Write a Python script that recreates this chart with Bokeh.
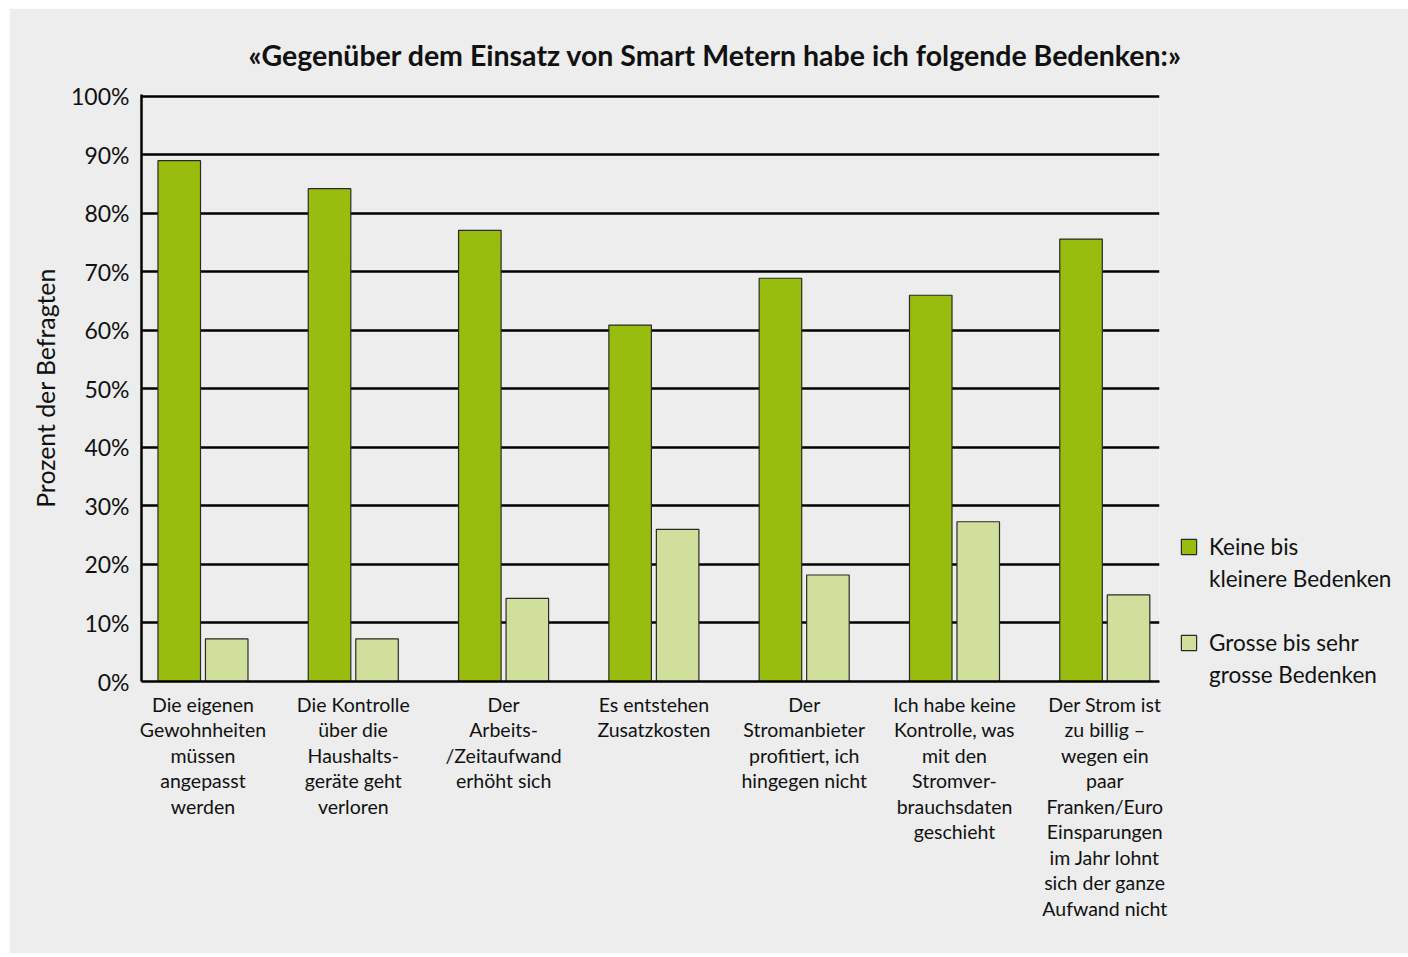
from bokeh.plotting import figure
from bokeh.models import Range1d, FixedTicker, Legend, LegendItem
from bokeh.embed import file_html
from bokeh.resources import INLINE

categories = [
    "Die eigenen\nGewohnheiten\nmüssen\nangepasst\nwerden",
    "Die Kontrolle\nüber die\nHaushalts-\ngeräte geht\nverloren",
    "Der\nArbeits-\n/Zeitaufwand\nerhöht sich",
    "Es entstehen\nZusatzkosten",
    "Der\nStromanbieter\nprofitiert, ich\nhingegen nicht",
    "Ich habe keine\nKontrolle, was\nmit den\nStromver-\nbrauchsdaten\ngeschieht",
    "Der Strom ist\nzu billig –\nwegen ein\npaar\nFranken/Euro\nEinsparungen\nim Jahr lohnt\nsich der ganze\nAufwand nicht",
]
keine = [89, 84.2, 77.1, 60.9, 68.9, 66.0, 75.6]
grosse = [7.3, 7.3, 14.2, 26.0, 18.2, 27.3, 14.8]
series_names = ["Keine bis\nkleinere Bedenken", "Grosse bis sehr\ngrosse Bedenken"]
y_ticks = [0, 10, 20, 30, 40, 50, 60, 70, 80, 90, 100]
y_tick_labels = ["0%", "10%", "20%", "30%", "40%", "50%", "60%", "70%", "80%", "90%", "100%"]
title_text = "«Gegenüber dem Einsatz von Smart Metern habe ich folgende Bedenken:»"
y_label = "Prozent der Befragten"

FONT = "Lato"
BG = "#ecedec"
GREEN = "#99bd0e"
LIGHT = "#d1df9c"

xs = list(range(len(categories)))

p = figure(
    frame_width=1018, frame_height=587,
    x_range=Range1d(-0.409, 6.364), y_range=Range1d(0, 100.3),
    output_backend="svg", toolbar_location=None,
    min_border_left=132, min_border_right=248, min_border_top=86, min_border_bottom=272,
    background_fill_color=BG, border_fill_color=BG,
    outline_line_color=None,
)
p.styles = {"margin-left": "9px", "margin-top": "8px"}

p.title.text = title_text
p.title.text_font = FONT
p.title.text_font_size = "28.5px"
p.title.text_font_style = "bold"
p.title.text_color = "#111111"
p.title.align = "left"
p.title.offset = 107
p.title.standoff = 46

gw = 0.283
off = 0.158
r1 = p.vbar(x=[x - off for x in xs], top=keine, width=gw, bottom=0,
            fill_color=GREEN, line_color="#2a2a2a", line_width=1.2)
r2 = p.vbar(x=[x + off for x in xs], top=grosse, width=gw, bottom=0,
            fill_color=LIGHT, line_color="#2a2a2a", line_width=1.2)
# invisible renderer used for continuation lines of legend labels
blank = p.vbar(x=[], top=[], width=gw, fill_alpha=0, line_alpha=0)

# axes
p.yaxis.ticker = FixedTicker(ticks=y_ticks)
p.yaxis.major_label_overrides = {t: l for t, l in zip(y_ticks, y_tick_labels)}
p.yaxis.major_label_text_font = FONT
p.yaxis.major_label_text_font_size = "23px"
p.yaxis.major_label_text_color = "#111111"
p.yaxis.major_tick_out = 0
p.yaxis.major_tick_in = 0
p.yaxis.minor_tick_out = 0
p.yaxis.minor_tick_in = 0
p.yaxis.major_label_standoff = 12
p.yaxis.axis_line_color = "black"
p.yaxis.axis_line_width = 2.5
p.yaxis.axis_label = y_label
p.yaxis.axis_label_text_font = FONT
p.yaxis.axis_label_text_font_size = "24.8px"
p.yaxis.axis_label_text_font_style = "normal"
p.yaxis.axis_label_text_color = "#111111"
p.yaxis.axis_label_standoff = 8

p.xaxis.ticker = FixedTicker(ticks=xs)
p.xaxis.major_label_overrides = {x: c for x, c in zip(xs, categories)}
p.xaxis.major_label_text_font = FONT
p.xaxis.major_label_text_font_size = "19.5px"
p.xaxis.major_label_text_color = "#111111"
p.xaxis.major_label_text_line_height = 1.11
p.xaxis.major_tick_out = 0
p.xaxis.major_tick_in = 0
p.xaxis.minor_tick_out = 0
p.xaxis.minor_tick_in = 0
p.xaxis.major_label_standoff = 11
p.xaxis.axis_line_color = "black"
p.xaxis.axis_line_width = 2.5

p.xgrid.grid_line_color = None
p.ygrid.ticker = FixedTicker(ticks=y_ticks)
p.ygrid.grid_line_color = "black"
p.ygrid.grid_line_width = 2.5

k1, k2 = series_names[0].split("\n")
g1, g2 = series_names[1].split("\n")
legend = Legend(
    items=[LegendItem(label=k1, renderers=[r1]),
           LegendItem(label=k2, renderers=[blank]),
           LegendItem(label=" ", renderers=[blank]),
           LegendItem(label=g1, renderers=[r2]),
           LegendItem(label=g2, renderers=[blank])],
    location=(20, -9),
    label_text_font=FONT, label_text_font_size="22.5px", label_text_color="#111111",
    label_text_line_height=1.0, label_height=32,
    glyph_width=19, glyph_height=19, label_standoff=11, spacing=0,
    padding=0, margin=0, border_line_color=None, background_fill_alpha=0,
)
p.add_layout(legend, "right")

open("out.html", "w").write(file_html(p, INLINE))
